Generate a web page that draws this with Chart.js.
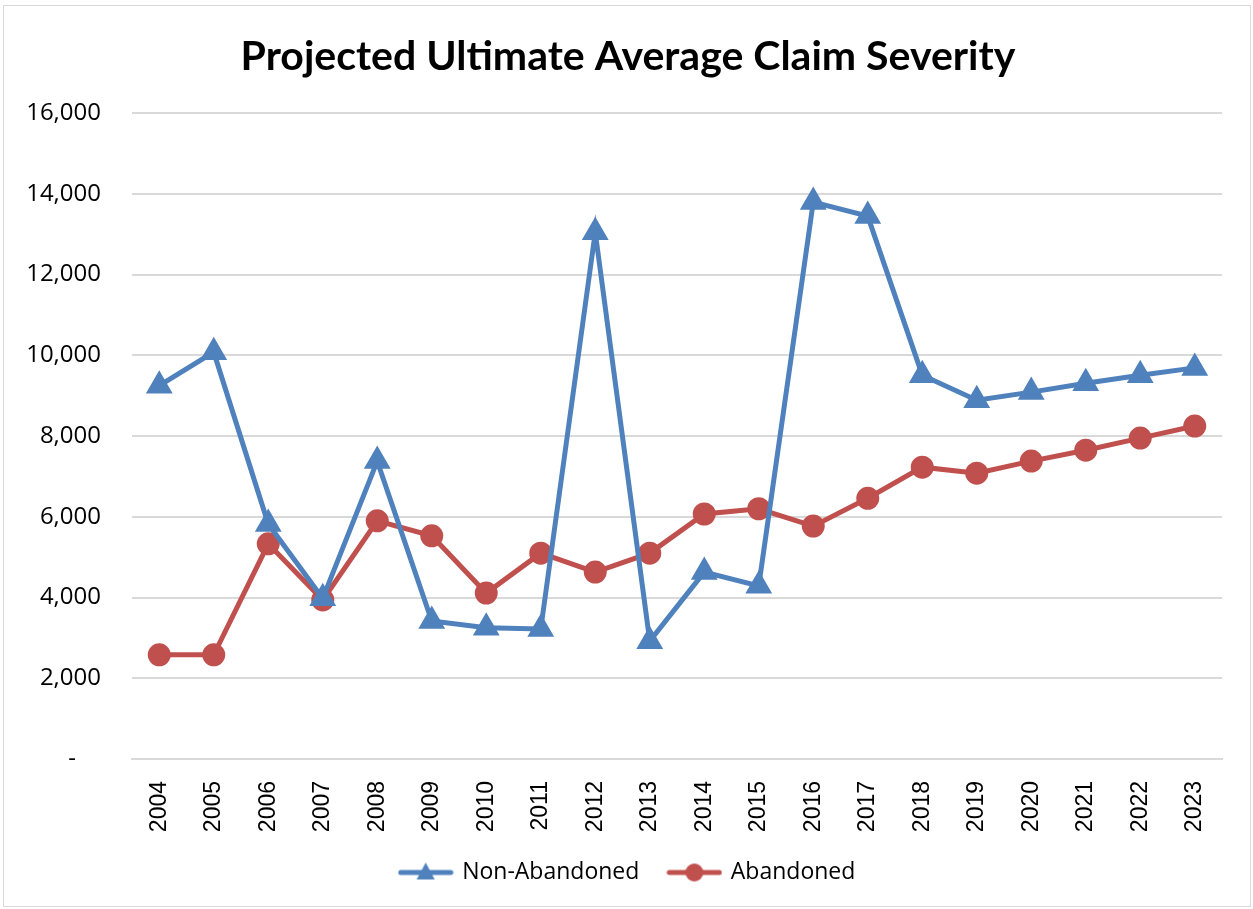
<!DOCTYPE html>
<html>
<head>
<meta charset="utf-8">
<script src="https://cdn.jsdelivr.net/npm/chart.js@4.4.1/dist/chart.umd.min.js"></script>
<style>
  body { margin: 0; background: #fff; }
  #wrap { position: absolute; left: 3px; top: 5px; width: 1248px; height: 902px; border: 1px solid #d9d9d9; box-sizing: border-box; }
  canvas { position: absolute; left: 0; top: 0; }
</style>
</head>
<body>
<div id="wrap"></div>
<canvas id="chart" width="1253" height="909"></canvas>
<script>
const years = ['2004', '2005', '2006', '2007', '2008', '2009', '2010', '2011', '2012', '2013',
               '2014', '2015', '2016', '2017', '2018', '2019', '2020', '2021', '2022', '2023'];
const nonAbandoned = [9250, 10080, 5820, 3980, 7380, 3420, 3250, 3220, 13050, 2920,
                      4630, 4290, 13800, 13450, 9510, 8890, 9090, 9310, 9510, 9690];
const abandoned = [2580, 2580, 5330, 3940, 5900, 5530, 4110, 5100, 4630, 5100,
                   6070, 6200, 5770, 6460, 7230, 7080, 7380, 7650, 7950, 8250];
const yTicks = [0, 2000, 4000, 6000, 8000, 10000, 12000, 14000, 16000];

const blue = '#4f81bd';
const red = '#c0504d';

// legend sample: line with the marker in the middle, like the spreadsheet legend
function legendIcon(color, style) {
    const c = document.createElement('canvas');
    c.width = 56;
    c.height = 22;
    const g = c.getContext('2d');
    g.strokeStyle = color;
    g.fillStyle = color;
    g.lineWidth = 5;
    g.lineCap = 'round';
    g.beginPath();
    g.moveTo(3, 11);
    g.lineTo(53, 11);
    g.stroke();
    g.beginPath();
    if (style === 'triangle') {
        g.moveTo(28, 1);
        g.lineTo(37, 18);
        g.lineTo(19, 18);
        g.closePath();
    } else {
        g.arc(28, 11, 9, 0, Math.PI * 2);
    }
    g.fill();
    return c;
}
const icons = [legendIcon(blue, 'triangle'), legendIcon(red, 'circle')];

new Chart(document.getElementById('chart'), {
    type: 'line',
    data: {
        labels: years,
        datasets: [
            {
                label: 'Non-Abandoned',
                data: nonAbandoned,
                borderColor: blue,
                backgroundColor: blue,
                borderWidth: 5,
                pointStyle: 'triangle',
                pointRadius: 10.5,
                pointHoverRadius: 10.5,
                tension: 0
            },
            {
                label: 'Abandoned',
                data: abandoned,
                borderColor: red,
                backgroundColor: red,
                borderWidth: 5,
                pointStyle: 'circle',
                pointRadius: 9,
                pointHoverRadius: 9,
                tension: 0
            }
        ]
    },
    options: {
        responsive: false,
        animation: false,
        layout: { padding: { left: 17, right: 14, top: 0, bottom: 15 } },
        plugins: {
            title: {
                display: true,
                text: 'Projected Ultimate Average Claim Severity',
                color: '#000',
                font: { family: 'Lato', size: 41, weight: 'bold', lineHeight: 1.2 },
                padding: { top: 32, bottom: 32 }
            },
            legend: {
                position: 'bottom',
                labels: {
                    color: '#000',
                    font: { family: 'Open Sans', size: 23 },
                    usePointStyle: true,
                    pointStyleWidth: 50,
                    padding: 30,
                    generateLabels: (chart) => {
                        const items = Chart.defaults.plugins.legend.labels.generateLabels(chart);
                        items.forEach((it, i) => { it.pointStyle = icons[i]; });
                        return items;
                    }
                }
            },
            tooltip: { enabled: false }
        },
        scales: {
            x: {
                offset: true,
                grid: { display: false },
                border: { color: '#d9d9d9', width: 2 },
                afterFit: (axis) => { axis.height = 72; },
                ticks: {
                    color: '#000',
                    maxRotation: 90,
                    minRotation: 90,
                    font: { family: 'Liberation Sans', size: 23 },
                    padding: 14
                }
            },
            y: {
                min: 0,
                max: 16000,
                afterBuildTicks: (axis) => { axis.ticks = yTicks.map(v => ({ value: v })); },
                afterFit: (axis) => { axis.width = 115; },
                grid: { color: '#d9d9d9', lineWidth: 2, drawTicks: false },
                border: { display: false },
                ticks: {
                    color: '#000',
                    font: { family: 'Open Sans', size: 24 },
                    padding: 31,
                    callback: (v) => v === 0 ? '-    ' : v.toLocaleString('en-US')
                }
            },
            // empty right-hand spacer so the title and legend sit centred like the original
            spacer: {
                position: 'right',
                grid: { display: false },
                border: { display: false },
                ticks: { display: false },
                afterFit: (axis) => { axis.width = 17; }
            }
        }
    }
});
</script>
</body>
</html>
